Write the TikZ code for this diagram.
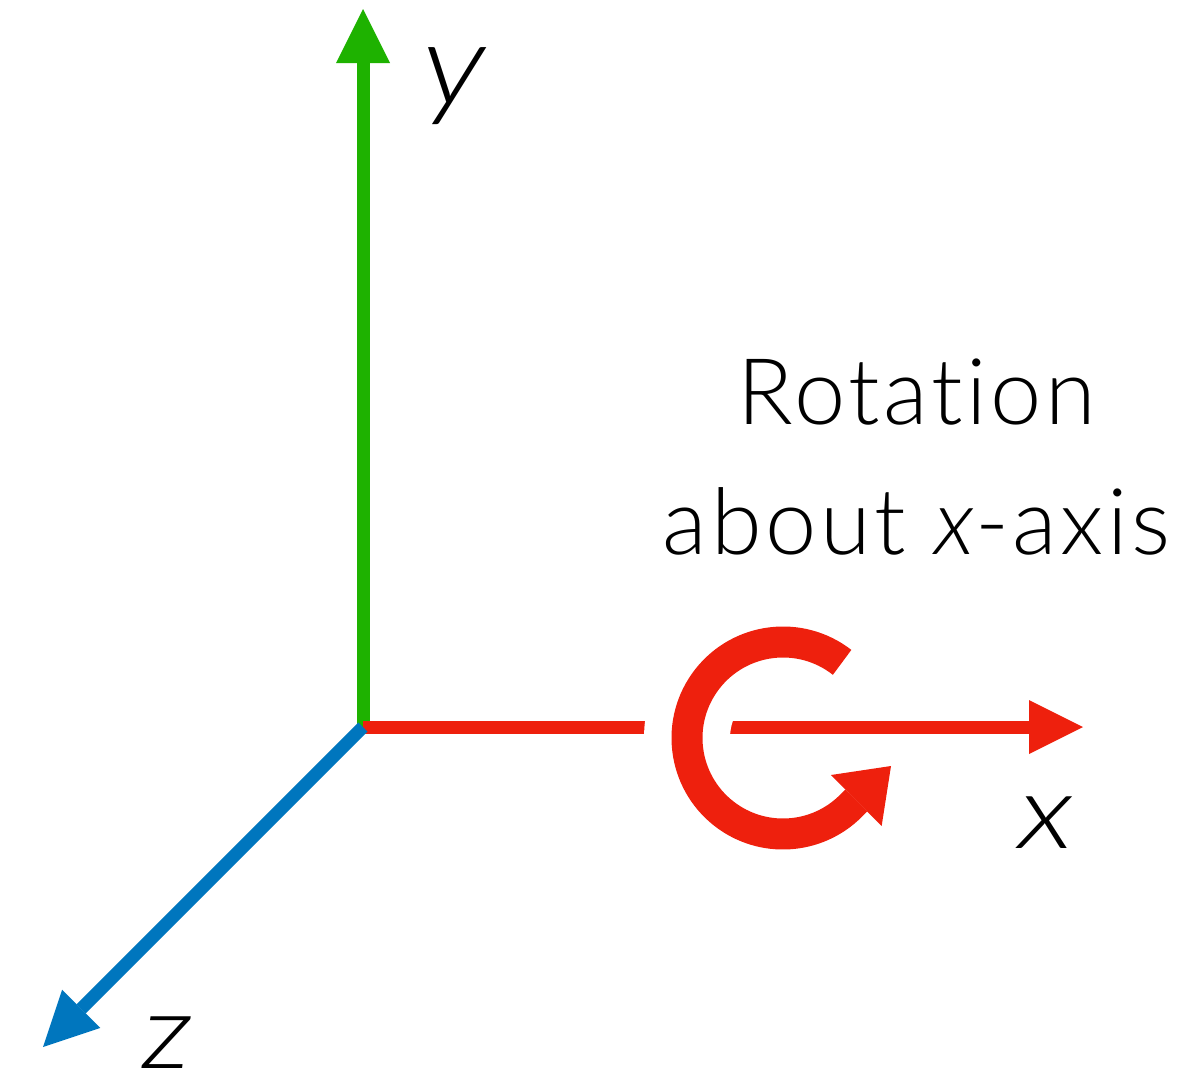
\documentclass[tikz,border=0pt]{standalone}
\usepackage{fontspec}
\setmainfont{Lato Light}
\usepackage{graphicx}
\usepackage{tikz}
\usetikzlibrary{positioning, arrows.meta}
\definecolor{axisgreen}{RGB}{30,178,0}
\definecolor{axisred}{RGB}{238,32,13}
\definecolor{axisblue}{RGB}{0,118,190}
\begin{document}
\begin{tikzpicture}[x=1pt,y=-1pt,
  axis/.style={line width=13pt},
  axistip/.style={-{Triangle[length=54pt,width=54pt,line width=0pt]}},
  rottip/.style={-{Triangle[length=49pt,width=72pt,line width=0pt]}},
  label/.style={font=\fontsize{104}{120}\selectfont\itshape, inner sep=0pt, anchor=base},
  caption/.style={font=\fontsize{92}{130}\selectfont\addfontfeatures{LetterSpace=4,Ligatures=NoCommon}, align=center, inner sep=0pt}
]
\useasboundingbox (0,0) rectangle (1199,1076);
\coordinate (origin) at (363,727);
\coordinate (ytip) at (363,9);
\coordinate (xtip) at (1083,727);
\coordinate (ztip) at (43,1047);
\coordinate (rotcenter) at (783,738);
\coordinate (rotstart) at ([shift={(52:96pt)}]rotcenter);
\coordinate (rottipend) at (891,766);
% --- assi ---
\draw[axis, axisgreen, axistip] (origin) -- (ytip);
\draw[axis, axisred, axistip] (origin) -- (xtip);
\draw[axis, axisblue, axistip] (origin) -- (ztip);
% --- rotazione ---
\draw[line width=86pt, white] ([shift={(150:96pt)}]rotcenter) arc[start angle=150, end angle=200, radius=96pt];
\draw[line width=31pt, axisred, rottip] (rotstart) arc[start angle=52, end angle=315, radius=96pt] -- (rottipend);
% --- etichette ---
\node[label] (ylabel) at (454,104) {\scalebox{1.31}[1.1]{y}};
\node[label] (xlabel) at (1046,848) {\scalebox{1.22}[1]{x}};
\node[label] (zlabel) at (167,1068) {\scalebox{1.16}[1]{z}};
\node[caption] (rotlabel) at (917,457) {Rotation\\about {\itshape x}-axis};
\end{tikzpicture}
\end{document}
